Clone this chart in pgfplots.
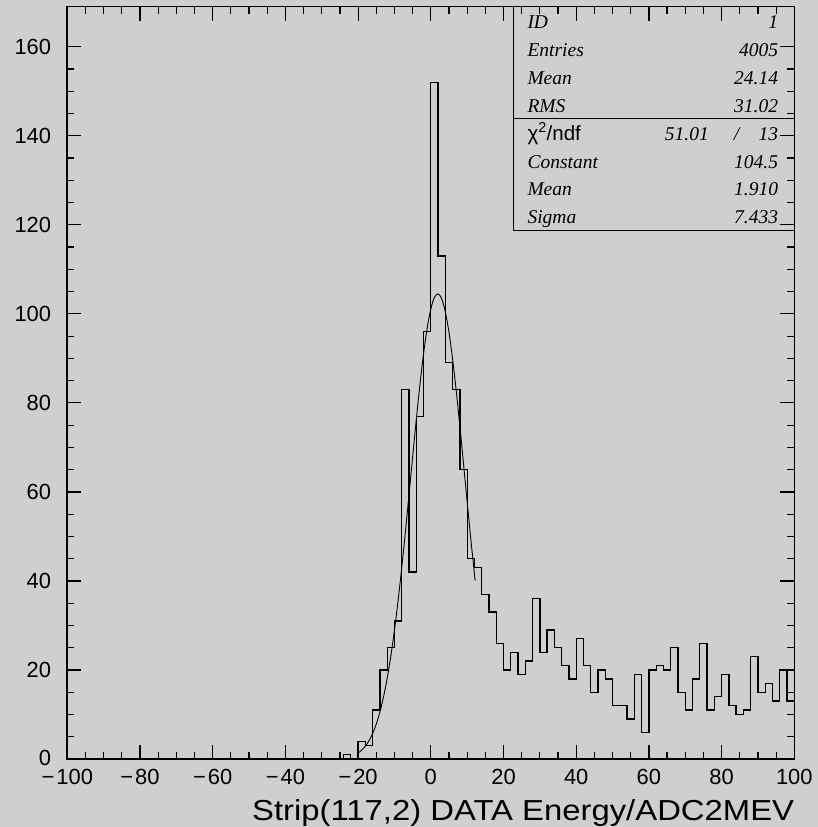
\documentclass[border=0pt]{standalone}
\usepackage{fontspec}
\setmainfont{Liberation Sans}
\newfontfamily\seriffont{Liberation Serif}
\usepackage{pgfplots}
\pgfplotsset{compat=1.18}
\definecolor{bg}{RGB}{207,207,207}
\newcommand\tickfont{\fontsize{21.9}{26}\selectfont}
\newcommand\statfont{\seriffont\itshape\fontsize{19.5}{23}\selectfont}
\newcommand\mn{−\kern2pt}
\begin{document}
\begin{tikzpicture}
\path[use as bounding box, fill=bg] (-67.3pt,-68pt) rectangle (750.7pt,759pt);
\begin{axis}[
  at={(0pt,0pt)}, anchor=south west,
  scale only axis, width=727pt, height=752.3pt,
  xmin=-100, xmax=100, ymin=0, ymax=169,
  xtick={-100,-80,...,100},
  xticklabels={\mn100,\mn80,\mn60,\mn40,\mn20,0,20,40,60,80,100},
  ytick={0,20,...,160},
  yticklabels={\raisebox{2.5pt}{0},20,40,60,80,100,120,140,160},
  minor x tick num=3, minor y tick num=3,
  major tick length=14pt, minor tick length=7pt,
  tick align=inside,
  tick style={black, line width=1.2pt},
  axis line style={black, line width=1.6pt},
  tick label style={font=\tickfont},
  xticklabel style={anchor=north, inner sep=0pt, yshift=-10.5pt},
  yticklabel style={anchor=east, inner sep=0pt, xshift=-16pt},
  clip=false,
]
\addplot[const plot mark left, black, line width=1.3pt] coordinates {
(-100,0) (-24,1) (-22,0) (-20,4) (-18,3) (-16,11) (-14,20) (-12,25) (-10,31)
(-8,83) (-6,42) (-4,77) (-2,96) (0,152) (2,113) (4,89) (6,83) (8,65)
(10,45) (12,43) (14,37) (16,33) (18,26) (20,20) (22,24) (24,19) (26,22)
(28,36) (30,24) (32,29) (34,25) (36,21) (38,18) (40,27) (42,21) (44,15)
(46,20) (48,18) (50,12) (52,12) (54,9) (56,19) (58,6) (60,20) (62,21)
(64,20) (66,25) (68,15) (70,11) (72,18) (74,26) (76,11) (78,14) (80,19)
(82,12) (84,10) (86,11) (88,23) (90,15) (92,17) (94,13) (96,20) (98,13) (100,13)
};
\addplot[smooth, black, line width=0.9pt] coordinates {
(-20,1.36) (-19,2.00) (-18,2.89) (-17,4.11) (-16,5.73) (-15,7.86) (-14,10.57)
(-13,13.97) (-12,18.14) (-11,23.13) (-10,28.95) (-9,35.59) (-8,42.96) (-7,50.94)
(-6,59.33) (-5,67.84) (-4,76.18) (-3,84.02) (-2,91.00) (-1,96.79) (0,101.1)
(1,103.72) (2,104.49) (3,103.38) (4,100.45) (5,95.85) (6,89.82) (7,82.66)
(8,74.71) (9,66.31) (10,57.80) (11,49.47) (12,41.59) (12.2,40.09)
};
\coordinate (TR) at (rel axis cs:1,1);
\coordinate (BR) at (rel axis cs:1,0);
\end{axis}
\draw[line width=1.3pt] ([xshift=-281pt]TR) rectangle ([yshift=-224pt]TR);
\draw[line width=1.3pt] ([xshift=-281pt,yshift=-111.6pt]TR) -- ([yshift=-111.6pt]TR);
\begin{scope}[every node/.style={inner sep=0pt}]
\node[anchor=base west] at ([xshift=-267pt,yshift=-21.6pt]TR) {\statfont ID};
\node[anchor=base east] at ([xshift=-16pt,yshift=-21.6pt]TR) {\statfont 1};
\node[anchor=base west] at ([xshift=-267pt,yshift=-49.55pt]TR) {\statfont Entries};
\node[anchor=base east] at ([xshift=-16pt,yshift=-49.55pt]TR) {\statfont 4005};
\node[anchor=base west] at ([xshift=-267pt,yshift=-77.5pt]TR) {\statfont Mean};
\node[anchor=base east] at ([xshift=-16pt,yshift=-77.5pt]TR) {\statfont 24.14};
\node[anchor=base west] at ([xshift=-267pt,yshift=-105.45pt]TR) {\statfont RMS};
\node[anchor=base east] at ([xshift=-16pt,yshift=-105.45pt]TR) {\statfont 31.02};
\node[anchor=base west] at ([xshift=-267pt,yshift=-133.4pt]TR) {\fontsize{20.5}{24}\selectfont χ\textsuperscript{2}/ndf};
\node[anchor=base east] at ([xshift=-85.3pt,yshift=-133.4pt]TR) {\statfont 51.01};
\node[anchor=base] at ([xshift=-57.8pt,yshift=-133.4pt]TR) {\statfont /};
\node[anchor=base east] at ([xshift=-16pt,yshift=-133.4pt]TR) {\statfont 13};
\node[anchor=base west] at ([xshift=-267pt,yshift=-161.35pt]TR) {\statfont Constant};
\node[anchor=base east] at ([xshift=-16pt,yshift=-161.35pt]TR) {\statfont 104.5};
\node[anchor=base west] at ([xshift=-267pt,yshift=-189.3pt]TR) {\statfont Mean};
\node[anchor=base east] at ([xshift=-16pt,yshift=-189.3pt]TR) {\statfont 1.910};
\node[anchor=base west] at ([xshift=-267pt,yshift=-217.25pt]TR) {\statfont Sigma};
\node[anchor=base east] at ([xshift=-16pt,yshift=-217.25pt]TR) {\statfont 7.433};
\node[anchor=base east] at ([yshift=-61pt]BR) {\scalebox{1.136}[1]{\fontsize{28.9}{34}\selectfont Strip(117,2) DATA Energy/ADC2MEV}};
\end{scope}
\end{tikzpicture}
\end{document}
